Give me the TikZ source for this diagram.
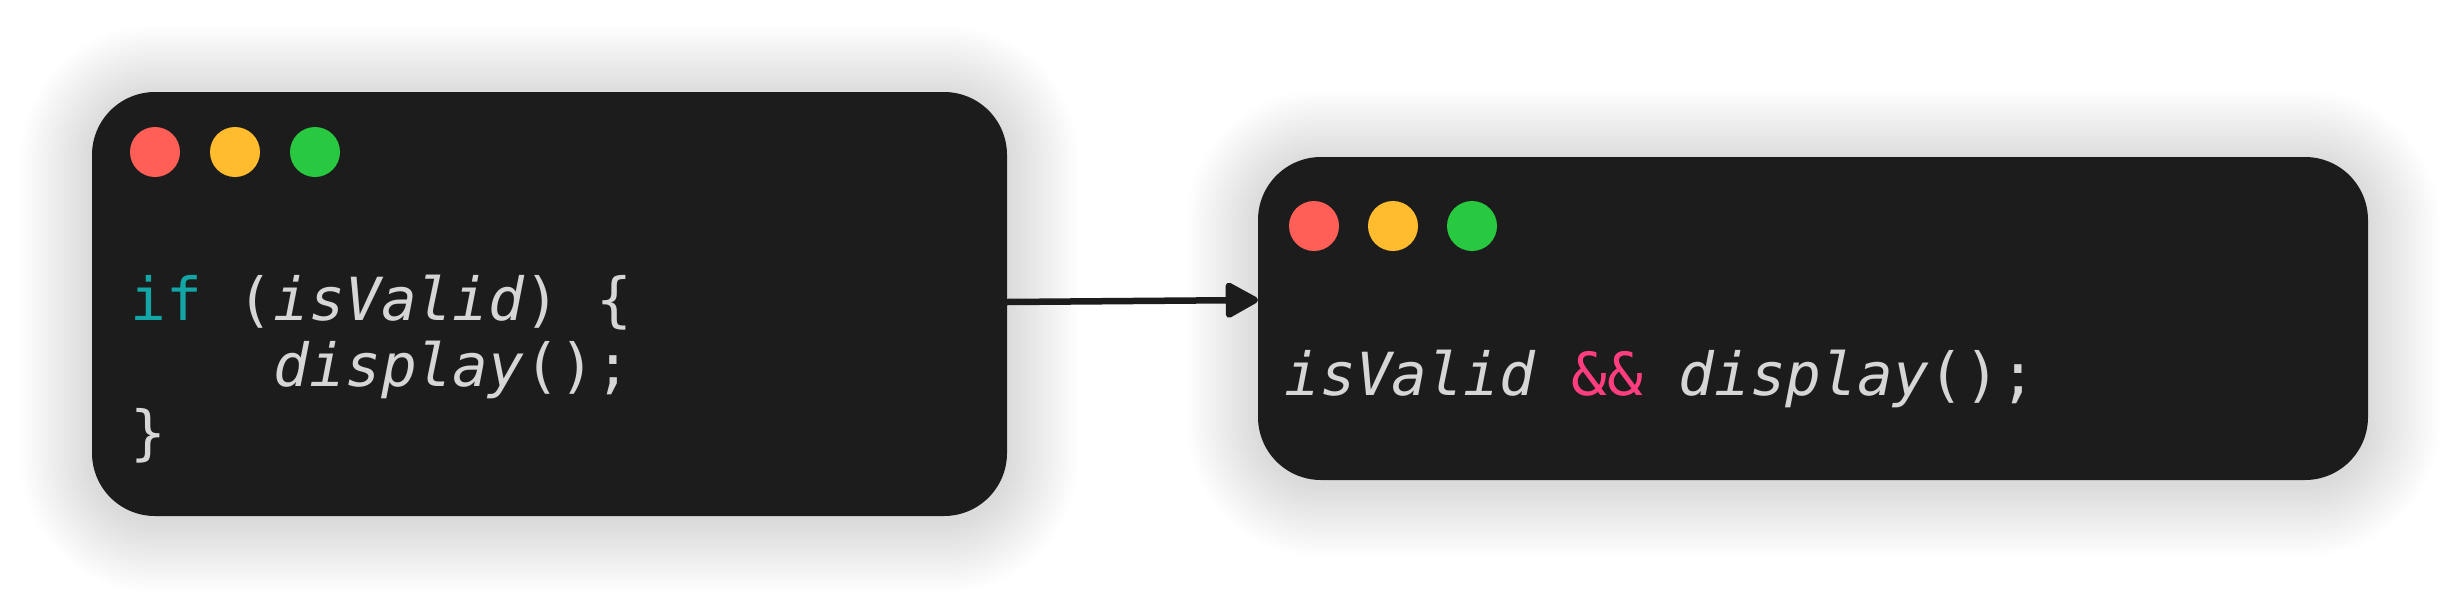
\documentclass[tikz,border=0pt]{standalone}
\usepackage{fontspec}
\setmonofont{DejaVu Sans Mono}
\usetikzlibrary{arrows.meta}
\definecolor{boxbg}{HTML}{1C1C1C}
\definecolor{codetext}{HTML}{D6D6D6}
\definecolor{keyword}{HTML}{14A6A6}
\definecolor{opcolor}{HTML}{FF3D7F}
\definecolor{dotred}{HTML}{FF5F57}
\definecolor{dotyellow}{HTML}{FEBC2E}
\definecolor{dotgreen}{HTML}{28C840}
\tikzset{
	codebox/.style={draw=none, fill=boxbg, rounded corners=0.63cm},
	codetxt/.style={anchor=base west, inner sep=0pt, align=left, text=codetext,
		font=\ttfamily\fontsize{16.9}{18.8}\selectfont},
	dot/.style={circle, inner sep=0pt, minimum size=0.5cm},
	flow/.style={line width=0.065cm, color=boxbg, -{Triangle[round, length=0.36cm, width=0.38cm]}}
}
\newcommand{\ident}[1]{\textit{#1}}
% soft shadow: stacked faint rounded rectangles
\def\softshadow(#1,#2)(#3,#4){
	\foreach \d in {0.02,0.04,...,0.72}{
		\pgfmathsetmacro\rr{0.63+\d}
		\fill[black, opacity=0.0035, rounded corners=\rr cm]
			({#1-\d}, {#2-\d-0.05}) rectangle ({#3+\d}, {#4+\d-0.05});
	}
}

\begin{document}
\begin{tikzpicture}
			%%%%% START %%%%%
			\fill[white] (0, 0) rectangle (24.61, 6.08);
			\useasboundingbox (0, 0) rectangle (24.61, 6.08);
			
			%%%%% LONG FORM %%%%%
			\softshadow(0.92,0.92)(10.07,5.16)
			\draw[codebox] (0.92, 0.92) rectangle (10.07, 5.16);
			\node[dot, fill=dotred] (longred) at (1.55, 4.56) {};
			\node[dot, fill=dotyellow] (longyellow) at (2.35, 4.56) {};
			\node[dot, fill=dotgreen] (longgreen) at (3.15, 4.56) {};
			\node[codetxt] (longcode) at (1.30, 1.55)
				{\textcolor{keyword}{if} (\ident{isValid}) \{\\
				\ \ \ \ \ident{display}();\\
				\}};
			
			%%%%% SHORT FORM %%%%%
			\softshadow(12.58,1.28)(23.68,4.51)
			\draw[codebox] (12.58, 1.28) rectangle (23.68, 4.51);
			\node[dot, fill=dotred] (shortred) at (13.14, 3.82) {};
			\node[dot, fill=dotyellow] (shortyellow) at (13.93, 3.82) {};
			\node[dot, fill=dotgreen] (shortgreen) at (14.72, 3.82) {};
			\node[codetxt] (shortcode) at (12.84, 2.13)
				{\ident{isValid} \textcolor{opcolor}{\&\&} \ident{display}();};
			
			%%%%% ARROW %%%%%
			\coordinate (arrowstart) at (10.07, 3.06);
			\coordinate (arrowend) at (12.58, 3.08);
			\draw[flow] (arrowstart) -- (arrowend);
			
			%%%%% END %%%%%
\end{tikzpicture}
\end{document}
